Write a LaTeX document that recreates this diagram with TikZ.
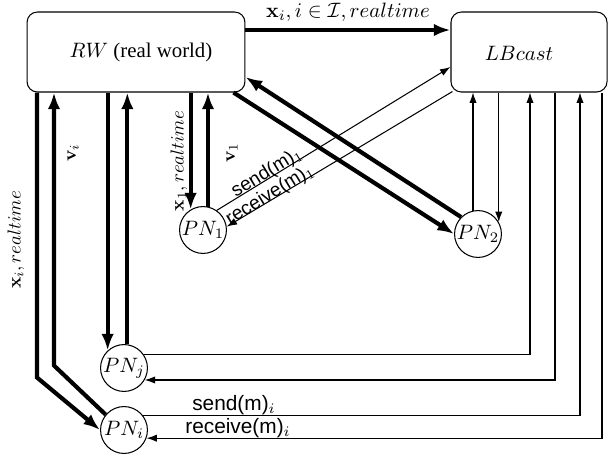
\documentclass[tikz,border=0pt]{standalone}
\usepackage[no-math]{fontspec}
\setmainfont{Liberation Serif}
\setsansfont{Liberation Sans}
\usetikzlibrary{arrows.meta}
\begin{document}
\begin{tikzpicture}[x=0.48pt,y=-0.48pt,
  box/.style={draw,line width=0.5pt,rounded corners=5pt,minimum height=38.4pt},
  pn/.style={draw,circle,line width=0.5pt,inner sep=0pt,minimum size=22.5pt},
  thk/.style={line width=2pt,-{Latex[length=8pt,width=6pt]}},
  thn/.style={line width=0.5pt,-{Latex[length=5pt,width=3.5pt]}},
  lab/.style={inner sep=0.5pt,font=\sffamily},
  slab/.style={inner sep=0.5pt,font=\sffamily,rotate=31.5,scale=0.92},
  mlab/.style={inner sep=0.5pt},
  vlab/.style={inner sep=0.5pt,rotate=90,scale=0.9}]
\useasboundingbox (0,0) rectangle (608,457);
% main boxes
\node[box,minimum width=104.6pt] (RW) at (136,52) {};
\node[mlab] (RWt) at (141,52) {$RW$ (real world)};
\node[box,minimum width=74.9pt] (LB) at (529,52) {};
\node[mlab] (LBt) at (519,53) {$LBcast$};
% protocol nodes
\node[pn] (P1) at (203,230) {$PN_1$};
\node[pn] (P2) at (478,234) {$PN_2$};
\node[pn] (Pj) at (124,368) {$PN_j$};
\node[pn] (Pi) at (124,430) {$PN_i$};
% thick connectors
\draw[thk] ([shift={(0,-22)}]RW.east) -- node[above,inner sep=3pt] (tl) {$\mathbf{x}_i, i\in\mathcal{I}, realtime$} ([shift={(0,-22)}]LB.west);
\draw[thk] ([shift={(-12,0)}]RW.south east) -- (P2.west);
\draw[thk] (P2.135) -- ([shift={(0,25)}]RW.east);
\draw[thk] (P1.121 |- RW.south) -- (P1.121);
\draw[thk] (P1.78) -- (P1.78 |- RW.south);
\draw[thk] (Pj.133 |- RW.south) -- (Pj.133);
\draw[thk] (Pj.82) -- (Pj.82 |- RW.south);
\draw[thk] ([shift={(-99,0)}]RW.south) -- ([shift={(-99,285)}]RW.south) -- (Pi.west);
\draw[thk] (Pi.140) -- ([shift={(-82,273)}]RW.south) -- ([shift={(-82,0)}]RW.south);
% thin connectors
\draw[thn] (P1.55) -- ([shift={(0,15)}]LB.west);
\draw[thn] ([shift={(2,-1)}]LB.south west) -- (P1.8);
\draw[thn] (P2.102) -- (P2.102 |- LB.south);
\draw[thn] (P2.30 |- LB.south) -- (P2.30);
\draw[thn] (Pj.34) -| ([shift={(1,0)}]LB.south);
\draw[thn] ([shift={(26,0)}]LB.south) |- (Pj.-30);
\draw[thn] (Pi.37) -| ([shift={(51,0)}]LB.south);
\draw[thn] ([shift={(73,0)}]LB.south) |- (Pi.-20);
% labels
\node[slab] (s1) at (267,173) {send(m)$_1$};
\node[slab] (r1) at (270,195) {receive(m)$_1$};
\node[vlab] (lvi) at (73,153) {$\mathbf{v}_i$};
\node[vlab] (lxi) at (16,240) {$\mathbf{x}_i, realtime$};
\node[vlab] (lx1) at (179,161) {$\mathbf{x}_1, realtime$};
\node[vlab] (lv1) at (232,153) {$\mathbf{v}_1$};
\node[lab] (si) at (234,405) {send(m)$_i$};
\node[lab] (ri) at (238,428) {receive(m)$_i$};
\end{tikzpicture}
\end{document}
